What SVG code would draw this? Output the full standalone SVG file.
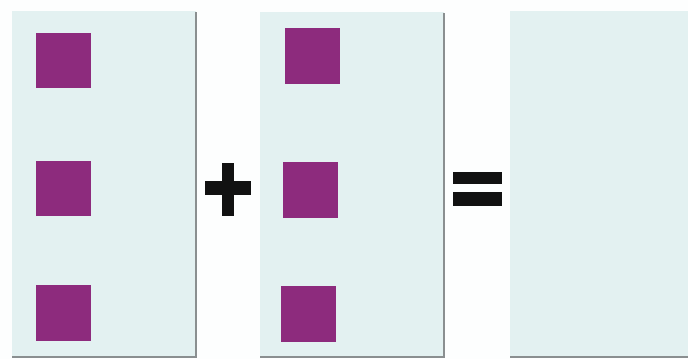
<svg xmlns="http://www.w3.org/2000/svg" width="688" height="359" viewBox="0 0 688 359">
<style>
.panel{fill:#e3f1f1}
.edge{stroke:#8a8f90;stroke-width:2;fill:none}
.sq{fill:#8d2b7d}
.op{fill:#111}
</style>
<rect width="688" height="359" fill="#fdfefe"/>
<g id="panel1">
<rect class="panel" x="12" y="11" width="184" height="346"/>
<path class="edge" d="M196 12V357H12"/>
<rect class="sq" x="36" y="33" width="55" height="55"/>
<rect class="sq" x="36" y="161" width="55" height="55"/>
<rect class="sq" x="36" y="285" width="55" height="56"/>
</g>
<g id="plus">
<rect class="op" x="205" y="181" width="46" height="14"/>
<rect class="op" x="222" y="163" width="12" height="53"/>
</g>
<g id="panel2">
<rect class="panel" x="260" y="12" width="184" height="345"/>
<path class="edge" d="M444 13V357H260"/>
<rect class="sq" x="285" y="28" width="55" height="56"/>
<rect class="sq" x="283" y="162" width="55" height="56"/>
<rect class="sq" x="281" y="286" width="55" height="56"/>
</g>
<g id="equals">
<rect class="op" x="453" y="172" width="49" height="12"/>
<rect class="op" x="453" y="192" width="49" height="14"/>
</g>
<g id="panel3">
<rect class="panel" x="510" y="11" width="178" height="346"/>
<path class="edge" d="M510 357H688"/>
</g>
</svg>
